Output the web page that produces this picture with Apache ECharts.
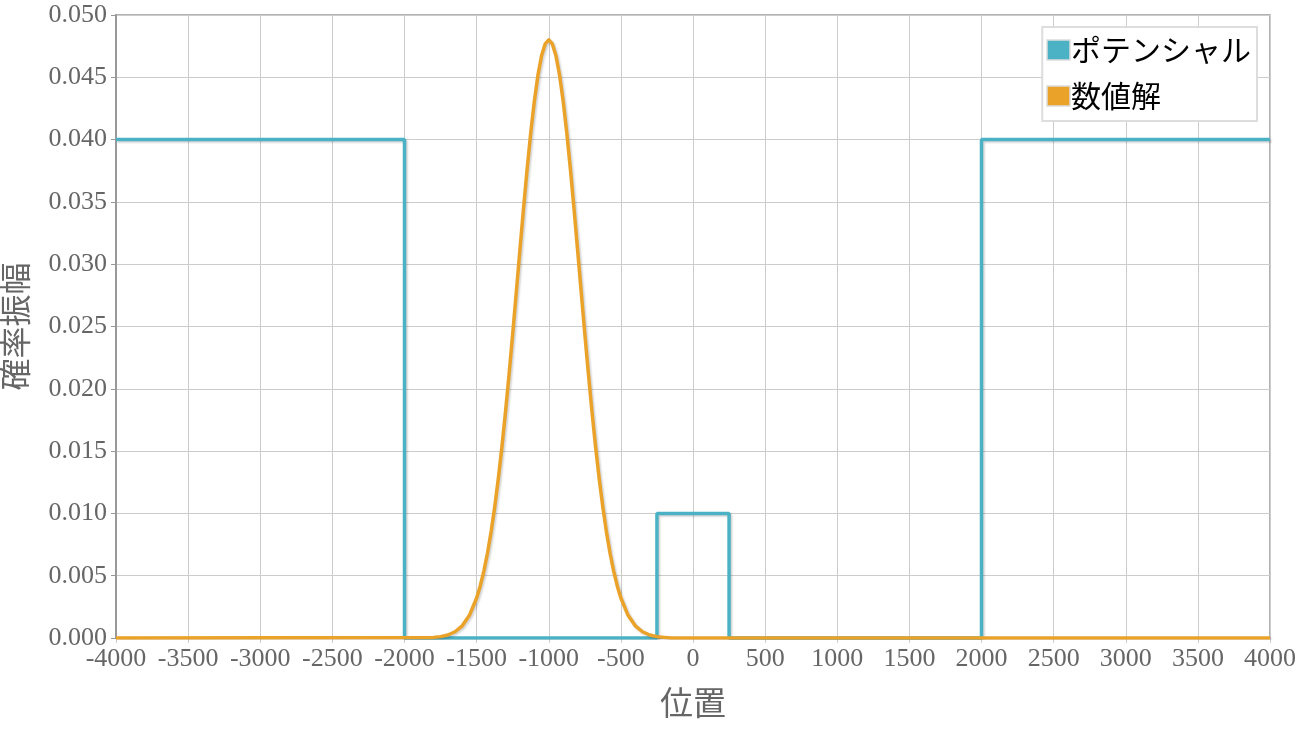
<!DOCTYPE html>
<html>
<head>
<meta charset="utf-8">
<script src="https://cdn.jsdelivr.net/npm/echarts@6/dist/echarts.min.js"></script>
<style>
html,body{margin:0;padding:0;background:#fff;}
#c{width:1296px;height:735px;}
</style>
</head>
<body>
<div id="c"></div>
<script>
// Potential (step barrier)
var potentialX = [-4000, -2000, -2000, -250, -250, 250, 250, 2000, 2000, 4000];
var potentialY = [0.040, 0.040, 0.000, 0.000, 0.010, 0.010, 0.000, 0.000, 0.040, 0.040];

// Numerical solution (wave packet)
var solutionX = [-4000, -1800, -1750, -1700, -1650, -1600, -1550, -1500,
  -1475, -1450, -1425, -1400, -1375, -1350, -1325, -1300, -1275, -1250, -1225, -1200, -1175, -1150, -1125, -1100, -1075, -1050, -1025,
  -1000,
  -975, -950, -925, -900, -875, -850, -825, -800, -775, -750, -725, -700, -675, -650, -625, -600, -575, -550, -525,
  -500, -450, -400, -350, -300, -250, -200, -150, 4000];
var solutionY = [0.00000, 0.00005, 0.00011, 0.00024, 0.00050, 0.00098, 0.00182, 0.00321,
  0.00418, 0.00537, 0.00680, 0.00850, 0.01049, 0.01276, 0.01531, 0.01813, 0.02118, 0.02441, 0.02776, 0.03114, 0.03446, 0.03763, 0.04054, 0.04308, 0.04517, 0.04672, 0.04768,
  0.04800,
  0.04768, 0.04672, 0.04517, 0.04308, 0.04054, 0.03763, 0.03446, 0.03114, 0.02776, 0.02441, 0.02118, 0.01813, 0.01531, 0.01276, 0.01049, 0.00850, 0.00680, 0.00537, 0.00418,
  0.00321, 0.00182, 0.00098, 0.00050, 0.00024, 0.00011, 0.00005, 0.00000, 0.00000];

var xTicks = {min: -4000, max: 4000, step: 500};
var yTicks = {min: 0, max: 0.05, step: 0.005};

var seriesNames = ['ポテンシャル', '数値解'];
var axisNames = {x: '位置', y: '確率振幅'};

function pairs(xs, ys) {
  var out = [];
  for (var i = 0; i < xs.length && i < ys.length; i++) out.push([xs[i], ys[i]]);
  return out;
}

var chart = echarts.init(document.getElementById('c'));
var labelFont = {fontFamily: '"Liberation Serif", "DejaVu Serif", serif', fontSize: 26, color: '#666'};
var shadow = {shadowColor: 'rgba(0,0,0,0.18)', shadowBlur: 2, shadowOffsetX: 1.5, shadowOffsetY: 1.5};
chart.setOption({
  animation: false,
  backgroundColor: '#fff',
  grid: {left: 116, right: 26, top: 15, bottom: 97, show: true, borderColor: '#999', borderWidth: 1.5,
         backgroundColor: 'transparent', containLabel: false, outerBoundsMode: 'none'},
  legend: {
    orient: 'vertical', right: 39, top: 27,
    data: seriesNames,
    backgroundColor: '#fff', borderColor: '#ddd', borderWidth: 2,
    padding: [8, 6, 10, 4], itemGap: 16,
    icon: 'rect', itemWidth: 23, itemHeight: 20,
    itemStyle: {borderColor: '#ddd', borderWidth: 1.5},
    textStyle: {fontFamily: '"Noto Sans CJK JP", sans-serif', fontSize: 30, color: '#000', padding: [0, 0, 0, -4]}
  },
  xAxis: {
    type: 'value', min: xTicks.min, max: xTicks.max, interval: xTicks.step,
    name: axisNames.x, nameLocation: 'middle', nameGap: 48,
    nameTextStyle: {fontFamily: '"Noto Sans CJK JP", sans-serif', fontSize: 33, color: '#666'},
    axisLine: {show: true, onZero: false, lineStyle: {color: '#999', width: 1.5}},
    axisTick: {show: true, length: 5, lineStyle: {color: '#ccc'}},
    axisLabel: Object.assign({margin: 8, formatter: function (v) { return String(v); }}, labelFont),
    splitLine: {show: true, lineStyle: {color: '#ccc', width: 1}}
  },
  yAxis: {
    type: 'value', min: yTicks.min, max: yTicks.max, interval: yTicks.step,
    name: axisNames.y, nameLocation: 'middle', nameGap: 85, nameRotate: 90,
    nameTextStyle: {fontFamily: '"Noto Sans CJK JP", sans-serif', fontSize: 32, color: '#666'},
    axisLine: {show: true, onZero: false, lineStyle: {color: '#999', width: 2}},
    axisTick: {show: true, length: 5, lineStyle: {color: '#999'}},
    axisLabel: Object.assign({margin: 9, formatter: function (v) { return v.toFixed(3); }}, labelFont),
    splitLine: {show: true, lineStyle: {color: '#ccc', width: 1}}
  },
  series: [
    {
      name: seriesNames[0], type: 'line', showSymbol: false, symbol: 'none',
      data: pairs(potentialX, potentialY),
      itemStyle: {color: '#4bb2c5'},
      lineStyle: Object.assign({color: '#4bb2c5', width: 3.5}, shadow),
      z: 2
    },
    {
      name: seriesNames[1], type: 'line', showSymbol: false, symbol: 'none', smooth: false,
      data: pairs(solutionX, solutionY),
      itemStyle: {color: '#EAA228'},
      lineStyle: Object.assign({color: '#EAA228', width: 3.5, join: 'round'}, shadow),
      z: 3
    }
  ]
});
</script>
</body>
</html>
